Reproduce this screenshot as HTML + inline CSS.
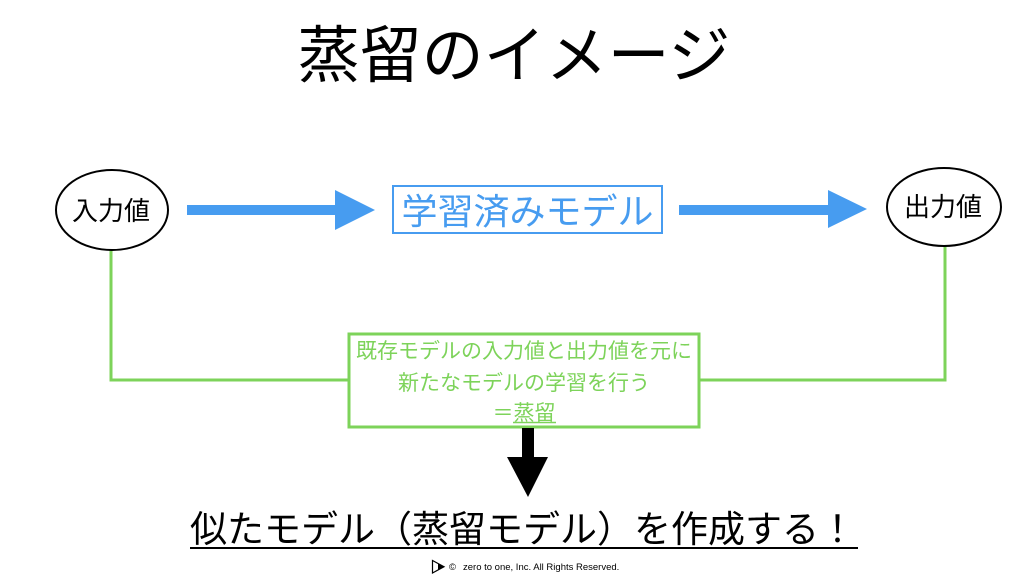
<!DOCTYPE html>
<html>
<head>
<meta charset="utf-8">
<style>
html,body{margin:0;padding:0;background:#fff;}
svg{display:block;}
text{font-family:"Liberation Sans","Noto Sans CJK JP",sans-serif;}
</style>
</head>
<body>
<svg width="1024" height="576" viewBox="0 0 1024 576" xmlns="http://www.w3.org/2000/svg">
  <rect width="1024" height="576" fill="#fff"/>
  <!-- Title -->
  <text x="514" y="77" font-size="62" text-anchor="middle" fill="#000">蒸留のイメージ</text>

  <!-- Green connectors -->
  <polyline points="111,249 111,380 349,380" fill="none" stroke="#7dd35a" stroke-width="3"/>
  <polyline points="945,246 945,380 699,380" fill="none" stroke="#7dd35a" stroke-width="3"/>

  <!-- Input ellipse -->
  <ellipse cx="112" cy="210" rx="56" ry="40" fill="#fff" stroke="#000" stroke-width="2"/>
  <text x="111" y="220" font-size="26" text-anchor="middle" fill="#000">入力値</text>

  <!-- Output ellipse -->
  <ellipse cx="944" cy="207" rx="57" ry="39" fill="#fff" stroke="#000" stroke-width="2"/>
  <text x="943" y="216" font-size="26" text-anchor="middle" fill="#000">出力値</text>

  <!-- Blue arrows -->
  <polygon points="187,205 335,205 335,190 375,210 335,230 335,215 187,215" fill="#479cf0"/>
  <polygon points="679,205 828,205 828,190 867,209 828,228 828,215 679,215" fill="#479cf0"/>

  <!-- Blue box -->
  <rect x="393" y="186" width="269" height="47" fill="#fff" stroke="#479cf0" stroke-width="2"/>
  <text x="527.5" y="224" font-size="36" text-anchor="middle" fill="#479cf0">学習済みモデル</text>

  <!-- Green box -->
  <rect x="349" y="334" width="350" height="93" fill="#fff" stroke="#7dd35a" stroke-width="3"/>
  <text x="524" y="358" font-size="21" text-anchor="middle" fill="#7dd35a">既存モデルの入力値と出力値を元に</text>
  <text x="524" y="390" font-size="21" text-anchor="middle" fill="#7dd35a">新たなモデルの学習を行う</text>
  <text x="524" y="420" font-size="21" text-anchor="middle" fill="#7dd35a">＝蒸留</text>
  <line x1="513" y1="422.5" x2="556" y2="422.5" stroke="#7dd35a" stroke-width="1.5"/>

  <!-- Black down arrow -->
  <polygon points="522,428 534,428 534,457 548,457 528,497 507,457 522,457" fill="#000"/>

  <!-- Bottom text -->
  <text x="523" y="542" font-size="37" text-anchor="middle" fill="#000">似たモデル（蒸留モデル）を作成する！</text>
  <line x1="190" y1="548" x2="858" y2="548" stroke="#000" stroke-width="2"/>

  <!-- Copyright -->
  <path d="M432.5,560.5 L432.5,573 L444,566.7 Z" fill="none" stroke="#000" stroke-width="1.2"/>
  <path d="M438,563.5 L444,566.7 L438,570 Z" fill="#000"/>
  <text x="449" y="570" font-size="9.5" fill="#000">©</text>
  <text x="463" y="570" font-size="9.5" fill="#000">zero to one, Inc. All Rights Reserved.</text>
</svg>
</body>
</html>
